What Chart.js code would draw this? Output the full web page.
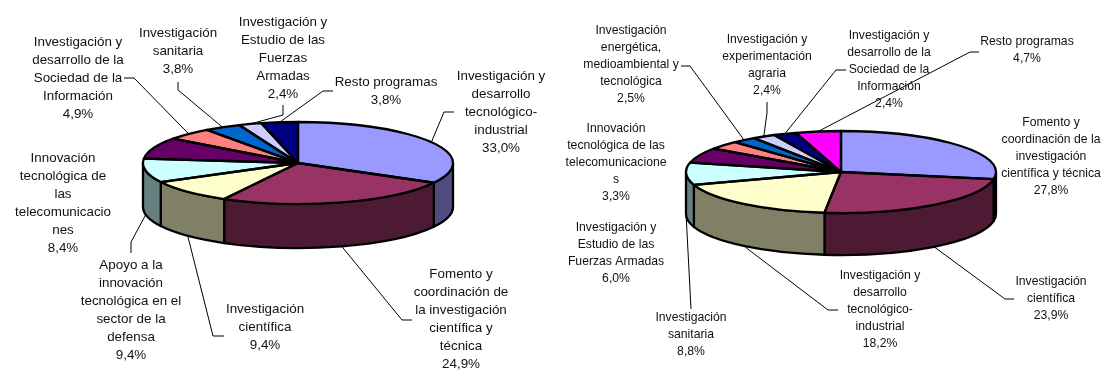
<!DOCTYPE html>
<html lang="es">
<head>
<meta charset="utf-8">
<style>
html,body{margin:0;padding:0;background:#fff;overflow:hidden}
#wrap{position:relative;width:1103px;height:371px}
canvas{position:absolute;top:0;filter:blur(0.35px)}
</style>
<script src="https://cdn.jsdelivr.net/npm/chart.js@4"></script>
</head>
<body>
<div id="wrap">
<canvas id="left" width="551" height="371" style="left:0;width:551px;height:371px"></canvas>
<canvas id="right" width="552" height="371" style="left:551px;width:552px;height:371px"></canvas>
</div>
<script>
// ---- data ----
const leftCategories = [
  ["Investigación y","desarrollo","tecnológico-","industrial"],
  ["Fomento y","coordinación de","la investigación","científica y","técnica"],
  ["Investigación","científica"],
  ["Apoyo a la","innovación","tecnológica en el","sector de la","defensa"],
  ["Innovación","tecnológica de","las","telecomunicacio","nes"],
  ["Investigación y","desarrollo de la","Sociedad de la","Información"],
  ["Investigación","sanitaria"],
  ["Investigación y","Estudio de las","Fuerzas","Armadas"],
  ["Resto programas"]
];
const leftValues = [33.0, 24.9, 9.4, 9.4, 8.4, 4.9, 3.8, 2.4, 3.8];

const rightCategories = [
  ["Fomento y","coordinación de la","investigación","científica y técnica"],
  ["Investigación","científica"],
  ["Investigación y","desarrollo","tecnológico-","industrial"],
  ["Investigación","sanitaria"],
  ["Investigación y","Estudio de las","Fuerzas Armadas"],
  ["Innovación","tecnológica de las","telecomunicacione","s"],
  ["Investigación","energética,","medioambiental y","tecnológica"],
  ["Investigación y","experimentación","agraria"],
  ["Investigación y","desarrollo de la","Sociedad de la","Información"],
  ["Resto programas"]
];
const rightValues = [27.8, 23.9, 18.2, 8.8, 6.0, 3.3, 2.5, 2.4, 2.4, 4.7];

const sliceColors = ["#9999FF","#993366","#FFFFCC","#CCFFFF","#660066","#FF8080","#0066CC","#CCCCFF","#000080","#FF00FF"];
const sideColors  = ["#4D4D80","#4D1A33","#808066","#668080","#330033","#804040","#003366","#666680","#000040","#800080"];

// ---- label layout (page pixels): [centre x, first line y, elbow x, elbow y, end x, end y] ----
const leftLayout = [
  [501,76, 444,112, 454,112],
  [461,274, 402,320, 412,320],
  [265,309, 213,336, 224,336],
  [131,265, 131,242, 131,253],
  [63,158],
  [78,42, 134,78, 124,78],
  [178,33, 178,90, 178,82],
  [283,22, 283,115, 283,105],
  [386,82, 323,91, 333,91]
];
const rightLayout = [
  [1051,123],
  [1051,282, 1005,299, 1014,299],
  [880,276, 828,310, 838,310],
  [691,318, 691,309, 691,309],
  [616,228],
  [616,129],
  [631,31, 690,66, 681,66],
  [767,40, 767,113, 767,102],
  [889,36, 836,70, 846,70],
  [1027,42, 970,52, 979,52]
];

function pct(v){ return v.toFixed(1).replace(".", ",") + "%"; }

function pie3d(o){
  const ry = o.ry, depth = o.depth, k = ry / o.r;
  const plugin = {
    id: "pie3d",
    beforeDatasetsDraw(chart){
      const ctx = chart.ctx, arcs = chart.getDatasetMeta(0).data;
      const {x: cx, y: cy} = arcs[0].getProps(["x","y"]);
      // side walls of the front half
      ctx.save();
      ctx.lineWidth = o.lw; ctx.strokeStyle = "#000"; ctx.lineJoin = "round";
      arcs.forEach((a,i)=>{
        const s = Math.max(a.startAngle,0), e = Math.min(a.endAngle,Math.PI);
        if (e <= s) return;
        const R = a.outerRadius;
        ctx.beginPath();
        ctx.ellipse(cx,cy,R,ry,0,s,e,false);
        ctx.ellipse(cx,cy+depth,R,ry,0,e,s,true);
        ctx.closePath();
        ctx.fillStyle = sideColors[i];
        ctx.fill(); ctx.stroke();
      });
      ctx.restore();
      // squash the library's own arcs into the tilted top face
      ctx.save();
      ctx.translate(cx,cy); ctx.scale(1,k); ctx.translate(-cx,-cy);
    },
    afterDatasetsDraw(chart){
      const ctx = chart.ctx, arcs = chart.getDatasetMeta(0).data;
      ctx.restore();
      const {x: cx, y: cy} = arcs[0].getProps(["x","y"]);
      // outlines of the top face, constant line width
      ctx.save();
      ctx.lineWidth = o.lw; ctx.strokeStyle = "#000"; ctx.lineJoin = "round";
      arcs.forEach(a=>{
        ctx.beginPath();
        ctx.moveTo(cx,cy);
        ctx.ellipse(cx,cy,a.outerRadius,ry,0,a.startAngle,a.endAngle,false);
        ctx.closePath();
        ctx.stroke();
      });
      ctx.restore();
      // labels and leader lines
      ctx.save();
      ctx.font = o.font + "px 'Liberation Sans', Arial, sans-serif";
      ctx.fillStyle = "#111"; ctx.textAlign = "center"; ctx.textBaseline = "middle";
      o.categories.forEach((lines,i)=>{
        const L = o.layout[i], x = L[0]-o.offset;
        [...lines, pct(o.values[i])].forEach((t,n)=>ctx.fillText(t,x,L[1]+n*o.lh));
        if (L.length > 2){
          const a = arcs[i], mid = (a.startAngle+a.endAngle)/2;
          const px = cx + a.outerRadius*Math.cos(mid);
          let py = cy + ry*Math.sin(mid);
          if (Math.sin(mid) > 0) py += depth;
          ctx.beginPath();
          ctx.moveTo(px,py);
          ctx.lineTo(L[2]-o.offset,L[3]);
          ctx.lineTo(L[4]-o.offset,L[5]);
          ctx.strokeStyle = "#000"; ctx.lineWidth = 1; ctx.stroke();
        }
      });
      ctx.restore();
    }
  };
  const cv = document.getElementById(o.id);
  return new Chart(cv, {
    type: "pie",
    data: {
      labels: o.categories.map(l=>l.join(" ")),
      datasets: [{ data: o.values, backgroundColor: sliceColors.slice(0,o.values.length), borderWidth: 0 }]
    },
    options: {
      responsive: false,
      animation: false,
      layout: { padding: {
        left: o.cx-o.r-o.offset, right: cv.width-(o.cx+o.r-o.offset),
        top: o.cy-o.r, bottom: cv.height-(o.cy+o.r)
      }},
      plugins: { legend:{display:false}, tooltip:{enabled:false}, title:{display:false} }
    },
    plugins: [plugin]
  });
}

pie3d({id:"left", offset:0, categories:leftCategories, values:leftValues, layout:leftLayout,
       cx:298, cy:163, r:155, ry:41, depth:44, font:13.4, lh:18, lw:2.3});
pie3d({id:"right", offset:551, categories:rightCategories, values:rightValues, layout:rightLayout,
       cx:841, cy:172, r:155, ry:41, depth:42, font:12.2, lh:16.8, lw:2.3});
</script>
</body>
</html>
